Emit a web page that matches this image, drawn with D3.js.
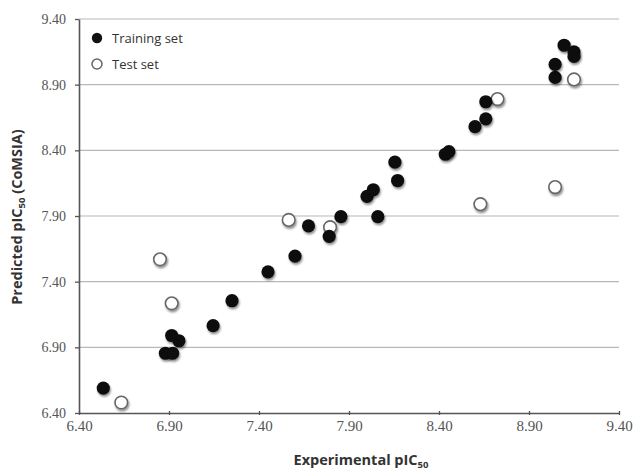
<!DOCTYPE html>
<html>
<head>
<meta charset="utf-8">
<script src="https://cdn.jsdelivr.net/npm/d3@7"></script>
<style>
  body { margin: 0; background: #fff; }
  svg { display: block; }
</style>
</head>
<body>
<div id="chart"></div>
<script>
const w = 633;
const h = 472;

// training set (experimental, predicted)
const trainExp = [6.535, 6.88, 6.92, 6.915, 6.955, 7.145, 7.25, 7.45, 7.60, 7.675, 7.79, 7.855, 8.06, 8.00, 8.035,
                  8.155, 8.17, 8.435, 8.455, 8.60, 8.66, 8.66, 9.045, 9.045, 9.095, 9.15, 9.15];
const trainPred = [6.59, 6.855, 6.855, 6.99, 6.95, 7.065, 7.255, 7.475, 7.595, 7.825, 7.745, 7.895, 7.895, 8.05, 8.10,
                   8.31, 8.17, 8.37, 8.39, 8.58, 8.64, 8.77, 8.955, 9.055, 9.20, 9.15, 9.115];

// test set
const testExp = [6.635, 6.85, 6.915, 7.565, 7.795, 8.63, 8.725, 9.045, 9.15];
const testPred = [6.48, 7.57, 7.235, 7.87, 7.815, 7.99, 8.79, 8.12, 8.94];

const ticks = [6.40, 6.90, 7.40, 7.90, 8.40, 8.90, 9.40];
const legendLabels = ["Training set", "Test set"];

const xScale = d3.scaleLinear().domain([6.4, 9.4]).range([79, 619]);
const yScale = d3.scaleLinear().domain([6.4, 9.4]).range([413, 19]);

const svg = d3.select("#chart")
    .append("svg")
    .attr("width", w)
    .attr("height", h);

const defs = svg.append("defs");
const shadow = defs.append("filter").attr("id", "shadow")
    .attr("x", "-50%").attr("y", "-50%").attr("width", "200%").attr("height", "200%");
shadow.append("feGaussianBlur").attr("in", "SourceAlpha").attr("stdDeviation", 1.3);
shadow.append("feOffset").attr("dx", 1).attr("dy", 1.5).attr("result", "blur");
shadow.append("feComponentTransfer").append("feFuncA").attr("type", "linear").attr("slope", 0.45);
const merge = shadow.append("feMerge");
merge.append("feMergeNode");
merge.append("feMergeNode").attr("in", "SourceGraphic");

// gridlines
svg.append("g")
    .selectAll("line")
    .data(ticks.slice(1))
    .enter()
    .append("line")
    .attr("x1", xScale(6.4))
    .attr("x2", xScale(9.4))
    .attr("y1", d => yScale(d))
    .attr("y2", d => yScale(d))
    .attr("stroke", "#b8b8b8")
    .attr("stroke-width", 1.2);

let xAxis = d3.axisBottom(xScale)
    .tickValues(ticks)
    .tickFormat(d3.format(".2f"))
    .tickSize(3)
    .tickSizeOuter(0);

let yAxis = d3.axisLeft(yScale)
    .tickValues(ticks)
    .tickFormat(d3.format(".2f"))
    .tickSize(4)
    .tickSizeOuter(0);

const gx = svg.append("g")
    .attr("id", "x-axis")
    .attr("transform", "translate(0, " + yScale(6.4) + ")")
    .call(xAxis);

const gy = svg.append("g")
    .attr("id", "y-axis")
    .attr("transform", "translate(" + xScale(6.4) + ", 0)")
    .call(yAxis);

[gx, gy].forEach(g => {
    g.select(".domain").attr("stroke", "#555").attr("stroke-width", 1.6);
    g.selectAll(".tick line").attr("stroke", "#555").attr("stroke-width", 1.3);
    g.selectAll(".tick text")
        .attr("fill", "#555")
        .style("font-family", "'Liberation Serif', 'DejaVu Serif', serif")
        .style("font-size", "14px");
});
gx.selectAll(".tick line").attr("y1", -2).attr("y2", 2);
gx.selectAll(".tick text").attr("dy", "0.95em").attr("y", 4).style("font-size", "15px");
gy.selectAll(".tick text").attr("x", -13);

// test set (open)
svg.append("g")
    .selectAll("circle")
    .data(testExp)
    .enter()
    .append("circle")
    .attr("cx", d => xScale(d))
    .attr("cy", (d, i) => yScale(testPred[i]))
    .attr("r", 6.3)
    .attr("fill", "#fff")
    .attr("stroke", "#666")
    .attr("stroke-width", 1.6)
    .attr("filter", "url(#shadow)");

// training set (filled)
svg.append("g")
    .selectAll("circle")
    .data(trainExp)
    .enter()
    .append("circle")
    .attr("cx", d => xScale(d))
    .attr("cy", (d, i) => yScale(trainPred[i]))
    .attr("r", 6.6)
    .attr("fill", "#111")
    .attr("filter", "url(#shadow)");

// legend
const legend = svg.append("g").attr("transform", "translate(97, 38)");
legend.append("circle").attr("cx", 0).attr("cy", 0).attr("r", 5.2).attr("fill", "#111");
legend.append("circle").attr("cx", 0).attr("cy", 26).attr("r", 5).attr("fill", "#fff")
    .attr("stroke", "#666").attr("stroke-width", 1.5);
legend.selectAll("text")
    .data(legendLabels)
    .enter()
    .append("text")
    .attr("x", 15)
    .attr("y", (d, i) => i * 26 + 5)
    .attr("fill", "#333")
    .style("font-family", "'Open Sans', sans-serif")
    .style("font-size", "13px")
    .text(d => d);

// axis titles
const xTitle = svg.append("text")
    .attr("x", 361)
    .attr("y", 465)
    .attr("text-anchor", "middle")
    .attr("fill", "#333")
    .style("font-family", "'Open Sans', sans-serif")
    .style("font-size", "14.5px")
    .style("font-weight", "bold");
xTitle.append("tspan").text("Experimental pIC");
xTitle.append("tspan").attr("dy", 3).style("font-size", "9.5px").text("50");

const yTitle = svg.append("text")
    .attr("transform", "translate(22, 217) rotate(-90)")
    .attr("text-anchor", "middle")
    .attr("fill", "#333")
    .style("font-family", "'Open Sans', sans-serif")
    .style("font-size", "14.5px")
    .style("font-weight", "bold");
yTitle.append("tspan").text("Predicted pIC");
yTitle.append("tspan").attr("dy", 3).style("font-size", "9.5px").text("50");
yTitle.append("tspan").attr("dy", -3).text(" (CoMSIA)");
</script>
</body>
</html>
